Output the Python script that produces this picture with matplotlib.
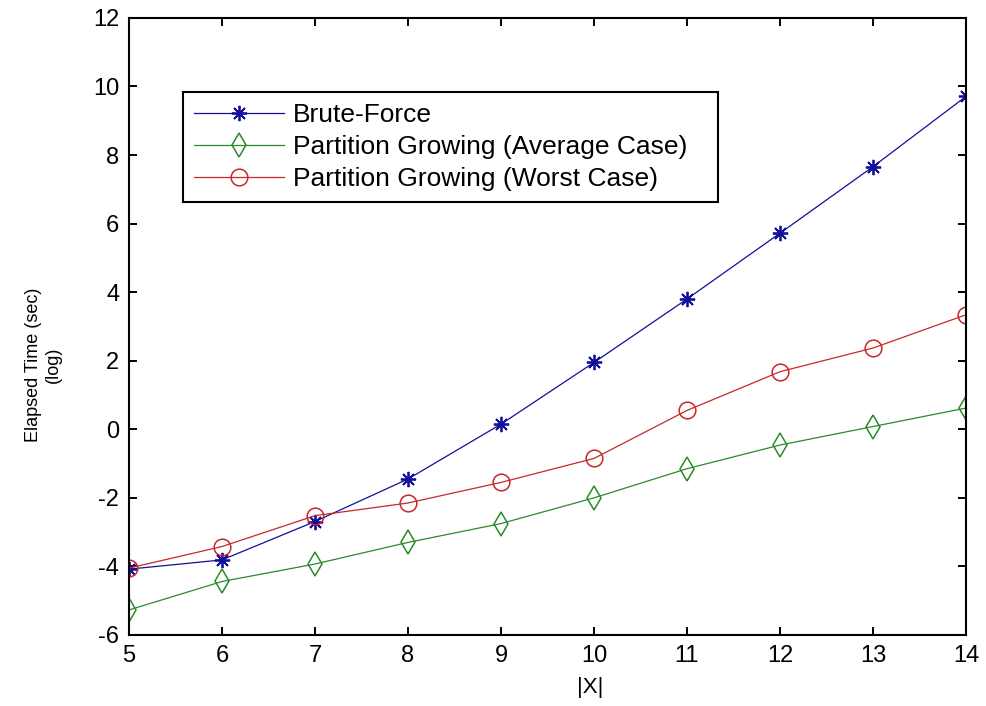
import matplotlib.pyplot as plt

plt.rcParams['font.family'] = ['Liberation Sans', 'DejaVu Sans']
plt.rcParams['axes.unicode_minus'] = False

x_vals = [5, 6, 7, 8, 9, 10, 11, 12, 13, 14]
brute_force = [-4.08, -3.81, -2.69, -1.45, 0.15, 1.95, 3.8, 5.72, 7.66, 9.71]
pg_average = [-5.27, -4.44, -3.93, -3.3, -2.75, -2.0, -1.15, -0.46, 0.08, 0.62]
pg_worst = [-4.05, -3.42, -2.52, -2.15, -1.55, -0.85, 0.55, 1.68, 2.37, 3.34]

labels = ['Brute-Force', 'Partition Growing (Average Case)', 'Partition Growing (Worst Case)']

fig = plt.figure(figsize=(9.87, 7.06), dpi=100)
ax = fig.add_axes([0.1307, 0.1006, 0.848, 0.874])

ax.plot(x_vals, brute_force, color='#10109a', marker=(8, 2, 0), markersize=11,
        markeredgewidth=1.3, linewidth=0.9, label=labels[0])
ax.plot(x_vals, pg_average, color='#2a8a2a', marker='d', markersize=12,
        markerfacecolor='none', markeredgewidth=1.1, linewidth=0.9, label=labels[1])
ax.plot(x_vals, pg_worst, color='#c82828', marker='o', markersize=12,
        markerfacecolor='none', markeredgewidth=1.1, linewidth=0.9, label=labels[2])

ax.set_xlim(5, 14)
ax.set_ylim(-6, 12)
ax.set_xticks(range(5, 15))
ax.set_yticks(range(-6, 13, 2))
ax.tick_params(direction='in', top=True, right=True, labelsize=17, length=6,
               width=1.4, pad=7)
for s in ax.spines.values():
    s.set_linewidth(1.5)

ax.set_xlabel('|X|', fontsize=16)
ax.xaxis.set_label_coords(0.551, -0.068)
ax.set_ylabel('Elapsed Time (sec)\n(log)', fontsize=13, ha='center',
              family=['Liberation Sans Narrow', 'Liberation Sans', 'DejaVu Sans'])
ax.yaxis.set_label_coords(-0.080, 0.438)

leg = ax.legend(loc='upper left', bbox_to_anchor=(0.0645, 0.880 - 0.2, 0.639, 0.2),
                mode='expand', borderaxespad=0, fontsize=19,
                fancybox=False, edgecolor='black', framealpha=1,
                handlelength=3.4, handletextpad=0.35, borderpad=0.42,
                labelspacing=0.3)
leg.get_frame().set_linewidth(1.5)

fig.savefig('out.png', dpi=100)
